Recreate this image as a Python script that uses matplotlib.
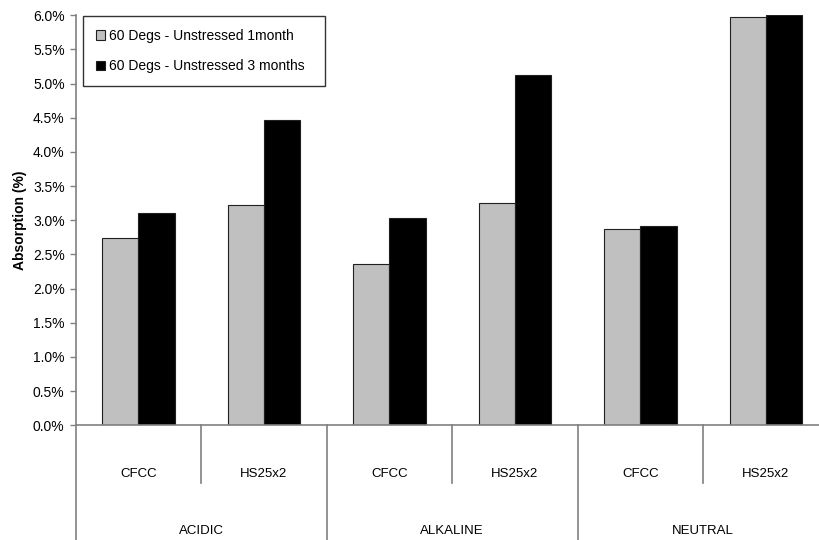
import matplotlib
matplotlib.use("Agg")
import matplotlib.pyplot as plt
from matplotlib.patches import Patch
from matplotlib.ticker import FuncFormatter
import matplotlib.transforms as mtransforms
import numpy as np

plt.rcParams["font.family"] = ["Liberation Sans", "DejaVu Sans"]

# Absorption results, one entry per (solution, sample) pair
groups = ["ACIDIC", "ALKALINE", "NEUTRAL"]
samples = ["CFCC", "HS25x2"]
one_month = [2.74, 3.22, 2.36, 3.25, 2.87, 5.97]
three_months = [3.11, 4.47, 3.03, 5.13, 2.91, 6.00]
series_names = ["60 Degs - Unstressed 1month", "60 Degs - Unstressed 3 months"]
yticks = np.arange(0, 6.01, 0.5)

W, H = 819, 540
fig = plt.figure(figsize=(W / 100, H / 100), dpi=100)

# plot area in pixels (left, bottom-of-zero, right, top)
left_px, zero_px, right_px, top_px = 75.7, 425.3, 828.7, 15.3
ax = fig.add_axes([left_px / W, (H - zero_px) / H,
                   (right_px - left_px) / W, (zero_px - top_px) / H])

x = np.arange(len(one_month))
bw = 0.29
ax.bar(x - bw / 2, one_month, bw, color="#c0c0c0", edgecolor="#202020", linewidth=0.8)
ax.bar(x + bw / 2, three_months, bw, color="black", edgecolor="#202020", linewidth=0.8)

ax.set_xlim(-0.5, 5.5)
ax.set_ylim(0, 6.0)
ax.set_yticks(yticks)
ax.yaxis.set_major_formatter(FuncFormatter(lambda v, p: f"{v:.1f}%"))
ax.tick_params(axis="y", direction="out", length=4, width=1, color="#808080",
               labelsize=10, pad=4)
ax.set_xticks([])

for s in ("top", "right"):
    ax.spines[s].set_visible(False)
for s in ("left", "bottom"):
    ax.spines[s].set_color("#808080")
    ax.spines[s].set_linewidth(1.2)

ax.set_ylabel("Absorption (%)", fontsize=10, fontweight="bold")
ax.yaxis.set_label_coords(-0.065, 0.5)

# two-level category axis below the plot
span = zero_px - top_px
inner_bottom = -(483.3 - zero_px) / span
outer_bottom = -(H - zero_px) / span
trans = mtransforms.blended_transform_factory(ax.transData, ax.transAxes)
for xi in [0.5, 2.5, 4.5]:
    ax.plot([xi, xi], [0, inner_bottom], color="#808080", lw=1.2,
            transform=trans, clip_on=False)
for xi in [-0.5, 1.5, 3.5]:
    ax.plot([xi, xi], [0, outer_bottom], color="#808080", lw=1.2,
            transform=trans, clip_on=False)

sample_y = -(474.3 - zero_px) / span
group_y = -(531 - zero_px) / span
for i in range(len(one_month)):
    ax.text(i, sample_y, samples[i % 2], transform=trans, ha="center",
            va="center", fontsize=9.5)
for g, name in enumerate(groups):
    ax.text(2 * g + 0.5, group_y, name, transform=trans, ha="center",
            va="center", fontsize=9.5)

handles = [Patch(facecolor="#c0c0c0", edgecolor="#202020", linewidth=0.8),
           Patch(facecolor="black", edgecolor="#202020", linewidth=0.8)]
leg = fig.legend(handles, series_names, loc="upper left",
                 bbox_to_anchor=(83 / W, 1 - 16.3 / H - 0.01, (325 - 83) / W, 0.01),
                 mode="expand", borderaxespad=0, frameon=True, fancybox=False,
                 fontsize=10, handlelength=0.7, handleheight=0.7,
                 handletextpad=0.3, labelspacing=1.2, borderpad=0.9)
leg.get_frame().set_edgecolor("black")
leg.get_frame().set_linewidth(1.0)

fig.savefig("out.png", dpi=100)
